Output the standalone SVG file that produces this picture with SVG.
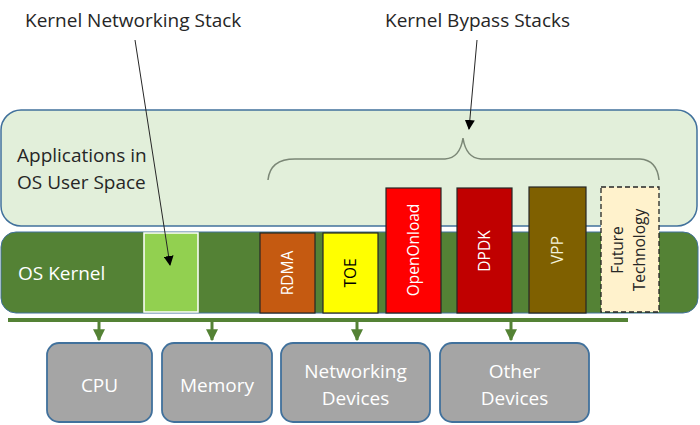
<svg xmlns="http://www.w3.org/2000/svg" width="700" height="425" viewBox="0 0 700 425">
<defs>
<style>
text{font-family:"Open Sans","Noto Sans","Liberation Sans",sans-serif;}
.lbl{font-size:19px;fill:#262626;}
.wt{font-size:19px;fill:#ffffff;}
.rot{font-size:15.5px;text-anchor:middle;}
.dev{fill:#a5a5a5;stroke:#41719c;stroke-width:1.8;}
.stk{stroke:#262626;stroke-width:1.2;}
.leader{stroke:#262626;stroke-width:1;fill:none;}
.bus{stroke:#548235;stroke-width:4;fill:none;}
</style>
<marker id="ah" viewBox="0 0 10 10" refX="9" refY="5" markerWidth="10" markerHeight="10" markerUnits="userSpaceOnUse" orient="auto">
<path d="M0,0 L10,5 L0,10 z" fill="#000"/>
</marker>
<marker id="gh" viewBox="0 0 10 10" refX="9" refY="5" markerWidth="12" markerHeight="12" markerUnits="userSpaceOnUse" orient="auto">
<path d="M0,0 L10,5 L0,10 z" fill="#548235"/>
</marker>
</defs>
<rect width="700" height="425" fill="#ffffff"/>

<g id="userspace">
<rect x="1" y="110" width="696" height="116" rx="20" fill="#e2efda" stroke="#41719c" stroke-width="1.5"/>
<text class="lbl" x="17" y="162">Applications in</text>
<text class="lbl" x="17" y="189">OS User Space</text>
</g>

<g id="kernel">
<rect x="1" y="232" width="697" height="81" rx="15" fill="#548235" stroke="#41719c" stroke-width="1"/>
<text class="wt" x="18" y="280">OS Kernel</text>
</g>

<g id="kstack">
<rect x="144" y="233" width="54" height="79" fill="#92d050" stroke="#ffffff" stroke-width="1.5"/>
</g>

<g id="rdma">
<rect x="260" y="233" width="55" height="80" fill="#c55a11" class="stk"/>
<text class="rot" transform="translate(293,273) rotate(-90)" fill="#ffffff">RDMA</text>
</g>
<g id="toe">
<rect x="323" y="233" width="55" height="80" fill="#ffff00" class="stk"/>
<text class="rot" transform="translate(356,273) rotate(-90)" fill="#000000">TOE</text>
</g>
<g id="openonload">
<rect x="386" y="188" width="55" height="125" fill="#ff0000" class="stk"/>
<text class="rot" transform="translate(419,250) rotate(-90)" fill="#ffffff">OpenOnload</text>
</g>
<g id="dpdk">
<rect x="457" y="188" width="55" height="125" fill="#c00000" class="stk"/>
<text class="rot" transform="translate(490,251) rotate(-90)" fill="#ffffff">DPDK</text>
</g>
<g id="vpp">
<rect x="529" y="187" width="57" height="126" fill="#7f6000" class="stk"/>
<text class="rot" transform="translate(563,250) rotate(-90)" fill="#f2f2d9">VPP</text>
</g>
<g id="future">
<rect x="601" y="187" width="58" height="125" fill="#fff2cc" stroke="#262626" stroke-width="1.3" stroke-dasharray="5,3"/>
<text class="rot" transform="translate(623,250) rotate(-90)" fill="#262626">Future</text>
<text class="rot" transform="translate(645,250) rotate(-90)" fill="#262626">Technology</text>
</g>

<g id="titles">
<text class="lbl" x="25" y="27">Kernel Networking Stack</text>
<text class="lbl" x="385" y="27">Kernel Bypass Stacks</text>
</g>

<g id="cpu">
<rect class="dev" x="47" y="343" width="105" height="79" rx="12"/>
<text class="wt" x="99.5" y="392" text-anchor="middle">CPU</text>
</g>
<g id="memory">
<rect class="dev" x="162" y="343" width="110" height="79" rx="12"/>
<text class="wt" x="217" y="392" text-anchor="middle">Memory</text>
</g>
<g id="netdev">
<rect class="dev" x="281" y="343" width="149" height="79" rx="12"/>
<text class="wt" x="355.5" y="378" text-anchor="middle">Networking</text>
<text class="wt" x="355.5" y="405" text-anchor="middle">Devices</text>
</g>
<g id="otherdev">
<rect class="dev" x="440" y="343" width="149" height="79" rx="12"/>
<text class="wt" x="514.5" y="378" text-anchor="middle">Other</text>
<text class="wt" x="514.5" y="405" text-anchor="middle">Devices</text>
</g>

<g id="connectors">
<path d="M268,180 Q270,159 295,159 L445,159 Q460,158 463,138 Q466,158 481,159 L640,159 Q657,160 659,180" fill="none" stroke="#7b8776" stroke-width="1.5"/>
<line class="leader" x1="135" y1="40" x2="170" y2="265" marker-end="url(#ah)"/>
<line class="leader" x1="477" y1="40" x2="469" y2="129" marker-end="url(#ah)"/>
<line class="bus" x1="8" y1="320" x2="628" y2="320"/>
<line stroke="#548235" stroke-width="3" x1="99" y1="320" x2="99" y2="340" marker-end="url(#gh)"/>
<line stroke="#548235" stroke-width="3" x1="212" y1="320" x2="212" y2="340" marker-end="url(#gh)"/>
<line stroke="#548235" stroke-width="3" x1="357" y1="320" x2="357" y2="340" marker-end="url(#gh)"/>
<line stroke="#548235" stroke-width="3" x1="511" y1="320" x2="511" y2="340" marker-end="url(#gh)"/>
</g>
</svg>
